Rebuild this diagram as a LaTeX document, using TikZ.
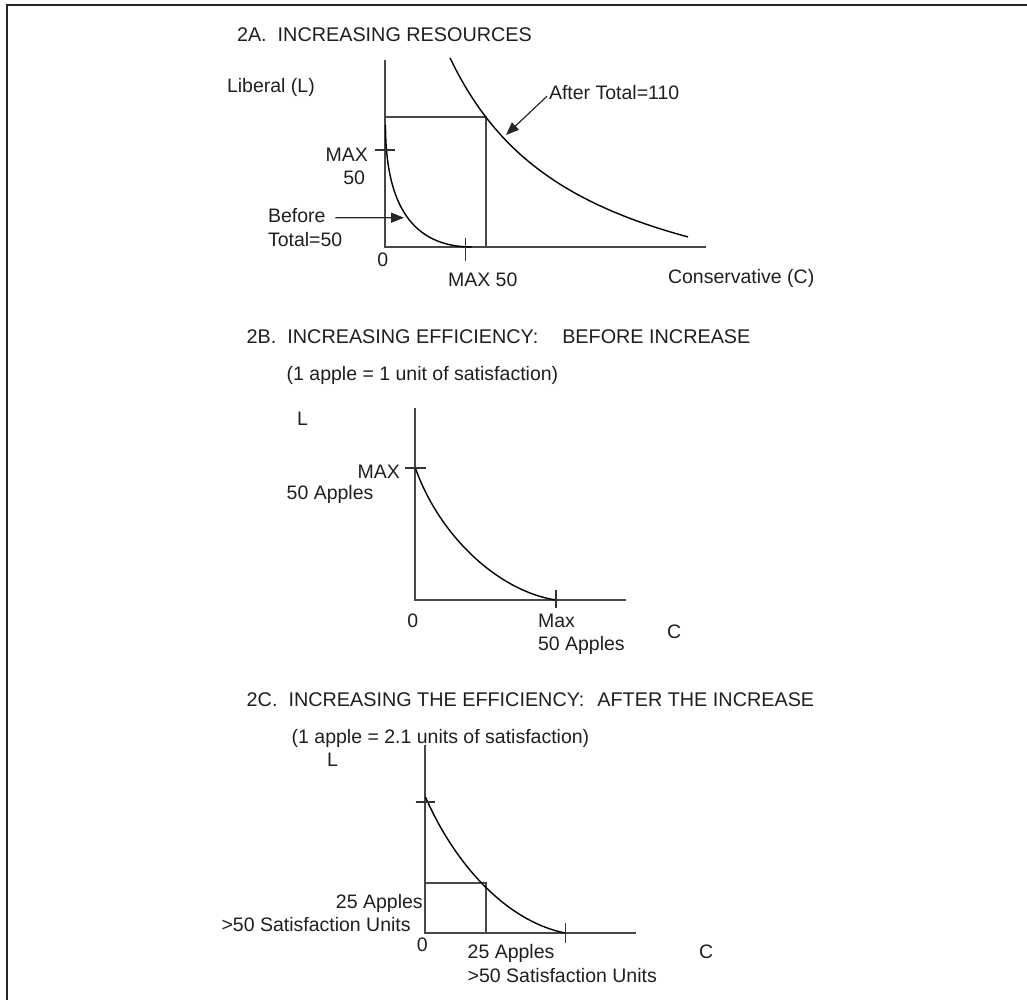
\documentclass[tikz,border=0pt]{standalone}
\usepackage{fontspec}
\setmainfont{Liberation Sans}
\usetikzlibrary{arrows.meta}
\begin{document}
\begin{tikzpicture}[x=1pt,y=-1pt,
  lbl/.style={inner sep=0pt, outer sep=0pt, font=\fontsize{19.5}{23}\selectfont, text=black!88},
  ttl/.style={lbl, font=\fontsize{19.8}{23}\selectfont},
  axis/.style={line width=1.3pt, draw=black!72},
  crv/.style={line width=1.4pt, draw=black},
  tick/.style={line width=1.2pt, draw=black!80},
  pointer/.style={line width=1.2pt, draw=black!85, -{Triangle[length=13pt,width=10pt]}},
]
\useasboundingbox (0,0) rectangle (1027,1000);
% page frame (top and left edges)
\draw[line width=2pt, black!85] (1027,5.5) -- (6.5,5.5) -- (6.5,1000);

% ---------- 2A: increasing resources ----------
\node[ttl, anchor=base west] (titleA) at (237,42) {2A.\hspace{11pt}INCREASING RESOURCES};
\node[lbl, anchor=base west] (yA) at (227,93) {Liberal (L)};
\coordinate (oA) at (385,247);
\draw[axis] (385,60) -- (oA) -- (706,247);
\draw[axis] (385,117) -- (486,117) -- (486,247);
% after: total = 110
\draw[crv] plot[domain=65:303, samples=90] ({385+\x}, {247-(371.11/((\x+68)*0.01)-90)});
% before: total = 50
\draw[crv] (385.5,125) .. controls (385.5,206.3) and (413.3,247) .. (472,247);
\draw[tick] (375,150) -- (395,150);
\draw[tick] (465.7,238) -- (465.7,261);
\node[lbl, anchor=base east] (maxA) at (368,161.7) {MAX};
\node[lbl, anchor=base east] (fiftyA) at (365,185) {50};
\node[lbl, anchor=base west] (before) at (268,222.7) {Before};
\node[lbl, anchor=base west] (totalB) at (268,246.7) {Total=50};
\coordinate (beforetip) at (404,217.7);
\draw[pointer] ([xshift=10pt,yshift=-2pt]before.east) -- (beforetip);
\node[lbl, anchor=base west] (after) at (549,100) {After Total=110};
\coordinate (aftertip) at (506,135);
\draw[pointer] ([xshift=-2pt,yshift=4pt]after.south west) -- (aftertip);
\node[lbl, anchor=base] (zeroA) at (382.7,266.7) {0};
\node[lbl, anchor=base west] (maxC) at (448,286.7) {MAX 50};
\node[lbl, anchor=base west] (xA) at (668,283) {Conservative (C)};

% ---------- 2B: efficiency, before ----------
\node[ttl, anchor=base west] (titleB) at (246.7,343) {2B.\hspace{11pt}INCREASING EFFICIENCY:\hspace{24pt}BEFORE INCREASE};
\node[lbl, anchor=base west] (rateB) at (286.7,380) {(1 apple = 1 unit of satisfaction)};
\node[lbl, anchor=base west] (yB) at (297,425) {L};
\draw[axis] (415,408) -- (415,600) -- (626,600);
\draw[crv] (415,467) .. controls (439.7,537.7) and (500.3,591.7) .. (556,600);
\draw[tick] (405,468) -- (426,468);
\draw[tick] (556,590) -- (556,608);
\node[lbl, anchor=base east] (maxB) at (400,478) {MAX};
\node[lbl, anchor=base west] (applesB) at (286.7,499) {50 Apples};
\node[lbl, anchor=base] (zeroB) at (412.7,627) {0};
\node[lbl, anchor=base west] (maxBx) at (538,627) {Max};
\node[lbl, anchor=base west] (applesBx) at (538,650) {50 Apples};
\node[lbl, anchor=base west] (xB) at (667,638) {C};

% ---------- 2C: efficiency, after ----------
\node[ttl, anchor=base west] (titleC) at (246.7,706.7) {2C.\hspace{11pt}INCREASING THE EFFICIENCY:\hspace{13pt}AFTER THE INCREASE};
\node[lbl, anchor=base west] (rateC) at (291.7,743.3) {(1 apple = 2.1 units of satisfaction)};
\node[lbl, anchor=base west] (yC) at (327,766) {L};
\draw[axis] (425,745) -- (425,933) -- (636,933);
\draw[axis] (425,883) -- (486,883) -- (486,933);
\draw[crv] (425.5,797) .. controls (454.5,863.7) and (506,921) .. (565,933);
\draw[tick] (415.7,802) -- (435,802);
\draw[tick] (565.7,923) -- (565.7,943);
\node[lbl, anchor=base east] (applesC) at (422.7,908.3) {25 Apples};
\node[lbl, anchor=base east] (unitsC) at (410.7,931.7) {>50 Satisfaction Units};
\node[lbl, anchor=base] (zeroC) at (422.3,951.7) {0};
\node[lbl, anchor=base west] (applesCx) at (467.7,958.3) {25 Apples};
\node[lbl, anchor=base west] (unitsCx) at (467.7,982) {>50 Satisfaction Units};
\node[lbl, anchor=base west] (xC) at (699,958.3) {C};
\end{tikzpicture}
\end{document}
